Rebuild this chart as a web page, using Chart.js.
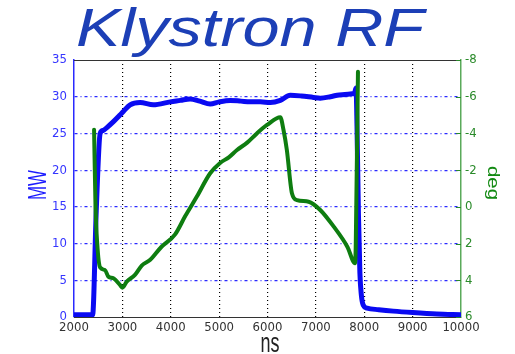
<!DOCTYPE html>
<html>
<head>
<meta charset="utf-8">
<script src="https://cdn.jsdelivr.net/npm/chart.js@4.4.0/dist/chart.umd.min.js"></script>
<style>
  html, body { margin: 0; padding: 0; background: #fff; }
</style>
</head>
<body>
<canvas id="klyChart" width="515" height="354"></canvas>
<script>
// klystron forward power (MW) vs time (ns)
var powerNs = [2000, 2200, 2385, 2460, 2540, 2600, 2680, 2815, 2950, 3020,
               3160, 3366, 3640, 3990, 4200, 4400, 4600, 4815, 5000, 5230,
               5450, 5640, 5850, 6060, 6265, 6470, 6700, 6950, 7090, 7300,
               7440, 7600, 7750, 7800, 7830, 7850, 7880, 7910, 7940, 7980,
               8060, 8300, 8600, 9000, 9500, 10000];
var powerMW = [0.3, 0.3, 0.3, 14.5, 25.0, 25.4, 25.8, 26.6, 27.5, 28.0,
               28.9, 29.2, 28.9, 29.3, 29.5, 29.7, 29.4, 29.0, 29.3, 29.5,
               29.4, 29.3, 29.3, 29.2, 29.5, 30.2, 30.1, 29.9, 29.8, 30.0,
               30.2, 30.3, 30.4, 30.5, 31.2, 26.0, 14.0, 6.0, 3.0, 1.6,
               1.2, 1.0, 0.8, 0.6, 0.4, 0.3];

// phase (deg) vs time (ns)
var phaseNs = [2415, 2445, 2480, 2540, 2640, 2710, 2815, 2950, 3000, 3090,
               3260, 3400, 3570, 3800, 4090, 4300, 4540, 4815, 5020, 5200,
               5370, 5580, 5780, 5990, 6265, 6330, 6400, 6505, 6610, 6850,
               7090, 7370, 7650, 7810, 7825, 7870];
var phaseDeg = [-4.2, 0.0, 2.0, 3.3, 3.44, 3.8, 3.89, 4.25, 4.4, 4.07,
                3.71, 3.2, 2.9, 2.2, 1.5, 0.5, -0.56, -1.83, -2.39, -2.7,
                -3.1, -3.5, -4.0, -4.46, -4.88, -4.2, -3.1, -0.74, -0.37, -0.28,
                0.17, 1.08, 2.17, 3.07, 2.0, -7.36];

var xTicks = [2000, 3000, 4000, 5000, 6000, 7000, 8000, 9000, 10000];
var mwTicks = [0, 5, 10, 15, 20, 25, 30, 35];
var degTicks = [-8, -6, -4, -2, 0, 2, 4, 6];

function pts(xs, ys) {
  return xs.map(function (x, i) { return { x: x, y: ys[i] }; });
}

var narrow = '"Liberation Sans Narrow", "DejaVu Sans Condensed", sans-serif';

// text squeezed into a measured box (the figure's lettering is distorted)
function boxText(ctx, text, cx, cy, rot, font, size, len, thick, band, color) {
  ctx.save();
  ctx.font = font;
  ctx.fillStyle = color;
  var w = ctx.measureText(text).width;
  ctx.translate(cx, cy);
  ctx.rotate(rot);
  ctx.scale(len / w, thick / (band[1] * size));
  ctx.textAlign = 'center';
  ctx.textBaseline = 'alphabetic';
  ctx.fillText(text, 0, band[0] * size);
  ctx.restore();
}

var decor = {
  id: 'decor',
  afterDraw: function (chart) {
    var ctx = chart.ctx, a = chart.chartArea;
    // top frame line
    ctx.save();
    ctx.strokeStyle = '#333';
    ctx.lineWidth = 1;
    ctx.beginPath();
    ctx.moveTo(a.left, a.top + 0.5);
    ctx.lineTo(a.right, a.top + 0.5);
    ctx.stroke();
    // inward ticks on the phase axis
    var s = chart.scales.yDeg;
    ctx.strokeStyle = '#2a8a2a';
    degTicks.forEach(function (v) {
      var y = Math.round(s.getPixelForValue(v)) + 0.5;
      ctx.beginPath();
      ctx.moveTo(a.right - 5, y);
      ctx.lineTo(a.right, y);
      ctx.stroke();
    });
    ctx.restore();

    // title
    ctx.save();
    ctx.font = 'italic 53px "Liberation Sans", Arial, sans-serif';
    var tw = ctx.measureText('Klystron RF').width;
    ctx.translate(76, 46);
    ctx.scale(348 / tw, 1);
    ctx.fillStyle = '#1c3fb6';
    ctx.textBaseline = 'alphabetic';
    ctx.fillText('Klystron RF', 0, 0);
    ctx.restore();

    var reg = '"Liberation Sans", Arial, sans-serif';
    boxText(ctx, 'MW', 36, 185, -Math.PI / 2, '20px ' + reg, 20, 30, 19, [0.358, 0.716], '#1a1aff');
    boxText(ctx, 'deg', 492, 183, Math.PI / 2, '20px ' + reg, 20, 34, 15, [0.26, 0.94], '#138a13');
    boxText(ctx, 'ns', 270, 345, 0, '20px ' + reg, 20, 19, 14, [0.26, 0.52], '#222');
  }
};

new Chart("klyChart", {
  type: "line",
  data: {
    datasets: [{
      label: "Phase",
      data: pts(phaseNs, phaseDeg),
      yAxisID: "yDeg",
      borderColor: "#0e7d10",
      borderWidth: 4,
      pointRadius: 0,
      cubicInterpolationMode: "monotone",
      borderJoinStyle: "round",
      borderCapStyle: "round",
      fill: false,
      order: 1
    }, {
      label: "Power",
      data: pts(powerNs, powerMW),
      yAxisID: "yMW",
      borderColor: "#0a0af2",
      borderWidth: 5,
      pointRadius: 0,
      cubicInterpolationMode: "monotone",
      borderJoinStyle: "round",
      borderCapStyle: "round",
      fill: false,
      order: 2
    }]
  },
  options: {
    responsive: false,
    animation: false,
    layout: { padding: { top: 60, left: 0, right: 0, bottom: 0 } },
    plugins: {
      legend: { display: false },
      tooltip: { enabled: false }
    },
    scales: {
      x: {
        type: "linear",
        min: xTicks[0],
        max: xTicks[xTicks.length - 1],
        afterBuildTicks: function (s) { s.ticks = xTicks.map(function (v) { return { value: v }; }); },
        afterFit: function (s) { s.height = 37; },
        ticks: {
          callback: function (v) { return String(v); },
          color: "#333",
          font: { family: narrow, size: 13 },
          padding: 3,
          maxRotation: 0,
          autoSkip: false
        },
        grid: {
          drawTicks: false,
          lineWidth: 1.2,
          color: function (c) {
            var v = c.tick ? c.tick.value : null;
            return (v === xTicks[0] || v === xTicks[xTicks.length - 1]) ? "rgba(0,0,0,0)" : "#000";
          }
        },
        border: { color: "#333", width: 1, dash: [1, 3] }
      },
      yMW: {
        position: "left",
        min: 0,
        max: 35,
        afterBuildTicks: function (s) { s.ticks = mwTicks.map(function (v) { return { value: v }; }); },
        afterFit: function (s) { s.width = 74; },
        ticks: {
          callback: function (v) { return String(v); },
          color: "#3535ff",
          font: { family: narrow, size: 13 },
          padding: 7
        },
        grid: {
          drawTicks: false,
          lineWidth: 1.2,
          color: function (c) {
            var v = c.tick ? c.tick.value : null;
            return (v === 0 || v === 35) ? "rgba(0,0,0,0)" : "#2a2aff";
          }
        },
        border: { color: "#2a2aff", width: 1.5, dash: [3, 3, 1, 3] }
      },
      yDeg: {
        position: "right",
        min: -8,
        max: 6,
        reverse: true,
        afterBuildTicks: function (s) { s.ticks = degTicks.map(function (v) { return { value: v }; }); },
        afterFit: function (s) { s.width = 54; },
        ticks: {
          callback: function (v) { return String(v); },
          color: "#2a8a2a",
          font: { family: narrow, size: 13 },
          padding: 4
        },
        grid: { drawOnChartArea: false, drawTicks: false },
        border: { color: "#5aaa5a", width: 1.5 }
      }
    }
  },
  plugins: [decor]
});
</script>
</body>
</html>
